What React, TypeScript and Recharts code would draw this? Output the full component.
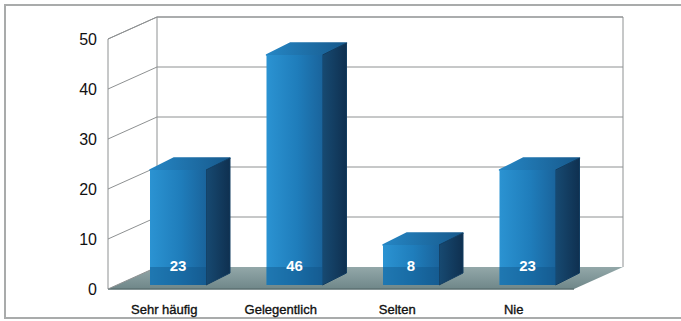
import { BarChart, Bar, XAxis, YAxis, CartesianGrid, LabelList } from "recharts";

const categories = ["Sehr häufig", "Gelegentlich", "Selten", "Nie"];
const responses = [23, 46, 8, 23];
const yTicks = [0, 10, 20, 30, 40, 50];

const data = categories.map((name, i) => ({ name, value: responses[i] }));

const W = 681;
const H = 321;
const MARGIN = { top: 35, right: 95, bottom: 6, left: 100 };
const Y_AXIS_W = 20;
const X_AXIS_H = 30;
const PLOT_BOTTOM = H - MARGIN.bottom - X_AXIS_H;
const PLOT_H = PLOT_BOTTOM - MARGIN.top;

// the bars stand between the front edge of the floor and the back wall
const FRONT = { dx: -12, dy: 4 };
const BACK = { dx: 37, dy: -18 };
const BAR_DEPTH = { dx: 24, dy: -12 };

const LINE = "#8e9192";
const FONT = "'Liberation Sans', Arial, sans-serif";

// one call per y tick: left wall diagonal, back wall line, floor at 0
const WallLine = (props: any) => {
  const { x1, x2, y1 } = props;
  const fl = x1 + FRONT.dx;
  const fr = x2 + FRONT.dx;
  const fy = y1 + FRONT.dy;
  const bl = x1 + BACK.dx;
  const br = x2 + BACK.dx;
  const by = y1 + BACK.dy;

  if (Math.abs(y1 - PLOT_BOTTOM) < 0.5) {
    const top = by - PLOT_H;
    return (
      <g>
        <defs>
          <linearGradient id="floorGrad" x1="0" y1="0" x2="0" y2="1">
            <stop offset="0%" stopColor="#93a8a9" />
            <stop offset="100%" stopColor="#6f8789" />
          </linearGradient>
        </defs>
        <polygon
          points={`${fl},${fy} ${bl},${by} ${br},${by} ${fr},${fy}`}
          fill="url(#floorGrad)"
        />
        <line x1={fl} y1={fy} x2={fr} y2={fy} stroke="#5b6f71" strokeWidth={1.5} />
        <line x1={fl} y1={fy} x2={fl} y2={fy - PLOT_H} stroke={LINE} />
        <line x1={bl} y1={by} x2={bl} y2={top} stroke={LINE} />
        <line x1={br} y1={by} x2={br} y2={top} stroke={LINE} />
        <line x1={bl} y1={top} x2={br} y2={top} stroke={LINE} />
        <line x1={fl} y1={fy - PLOT_H} x2={bl} y2={top} stroke={LINE} />
        <line x1={fl} y1={fy} x2={bl} y2={by} stroke={LINE} />
      </g>
    );
  }
  return (
    <g>
      <line x1={fl} y1={fy} x2={bl} y2={by} stroke={LINE} />
      <line x1={bl} y1={by} x2={br} y2={by} stroke={LINE} />
    </g>
  );
};

const Box3D = (props: any) => {
  const { x, y, width, height, index } = props;
  const { dx, dy } = BAR_DEPTH;
  const bottom = y + height;
  const right = x + width;
  const id = `box${index}`;
  return (
    <g>
      <defs>
        <linearGradient id={`${id}front`} x1="0" y1="0" x2="1" y2="0">
          <stop offset="0%" stopColor="#2b93d2" />
          <stop offset="55%" stopColor="#1f7dbb" />
          <stop offset="100%" stopColor="#1a649c" />
        </linearGradient>
        <linearGradient id={`${id}side`} x1="0" y1="0" x2="1" y2="0">
          <stop offset="0%" stopColor="#174a72" />
          <stop offset="100%" stopColor="#0f3050" />
        </linearGradient>
        <linearGradient id={`${id}top`} x1="0" y1="0" x2="1" y2="0">
          <stop offset="0%" stopColor="#2586c4" />
          <stop offset="100%" stopColor="#17598c" />
        </linearGradient>
      </defs>
      <polygon
        points={`${x},${y} ${x + dx},${y + dy} ${right + dx},${y + dy} ${right},${y}`}
        fill={`url(#${id}top)`}
        stroke={`url(#${id}top)`}
        strokeWidth={1.5}
        strokeLinejoin="round"
      />
      <polygon
        points={`${right},${y} ${right + dx},${y + dy} ${right + dx},${bottom + dy} ${right},${bottom}`}
        fill={`url(#${id}side)`}
        stroke="#123d61"
        strokeWidth={1}
        strokeLinejoin="round"
      />
      <rect x={x} y={y} width={width} height={height} fill={`url(#${id}front)`} />
      <rect x={x} y={bottom - 18} width={width} height={18} fill="#0f4f82" opacity={0.4} />
    </g>
  );
};

const ValueLabel = (props: any) => {
  const { x, y, width, height, value } = props;
  return (
    <text
      x={x + width / 2}
      y={y + height - 14}
      textAnchor="middle"
      fill="#ffffff"
      fontSize={15}
      fontWeight="bold"
      fontFamily={FONT}
    >
      {value}
    </text>
  );
};

const CategoryTick = (props: any) => {
  const { x, payload } = props;
  return (
    <text
      x={x + FRONT.dx - 2}
      y={PLOT_BOTTOM + 29}
      textAnchor="middle"
      fill="#111"
      fontSize={13}
      fontFamily={FONT}
      stroke="#111"
      strokeWidth={0.35}
    >
      {payload.value}
    </text>
  );
};

const ValueTick = (props: any) => {
  const { y, payload } = props;
  return (
    <text
      x={MARGIN.left - 3}
      y={y + FRONT.dy}
      textAnchor="end"
      dominantBaseline="central"
      fill="#111"
      fontSize={16}
      fontFamily={FONT}
    >
      {payload.value}
    </text>
  );
};

export default function App() {
  return (
    <div
      style={{
        position: "absolute",
        left: 0,
        top: 0,
        width: W,
        height: H,
        background: "#fff",
      }}
    >
      <div
        style={{
          position: "absolute",
          left: 4,
          top: 4,
          width: W - 4,
          height: H - 6,
          borderTop: "2px solid #a9abab",
          borderLeft: "2px solid #a9abab",
          borderBottom: "2px solid #a9abab",
          boxSizing: "border-box",
        }}
      />
      <BarChart
        width={W}
        height={H}
        data={data}
        margin={MARGIN}
        barSize={56}
        style={{ position: "absolute", left: 0, top: 0 }}
      >
        <CartesianGrid horizontal={WallLine} vertical={false} />
        <XAxis
          dataKey="name"
          height={X_AXIS_H}
          axisLine={false}
          tickLine={false}
          tick={<CategoryTick />}
          interval={0}
        />
        <YAxis
          width={Y_AXIS_W}
          domain={[0, 50]}
          ticks={yTicks}
          axisLine={false}
          tickLine={false}
          tick={<ValueTick />}
        />
        <Bar dataKey="value" shape={<Box3D />} isAnimationActive={false}>
          <LabelList dataKey="value" content={<ValueLabel />} />
        </Bar>
      </BarChart>
    </div>
  );
}
